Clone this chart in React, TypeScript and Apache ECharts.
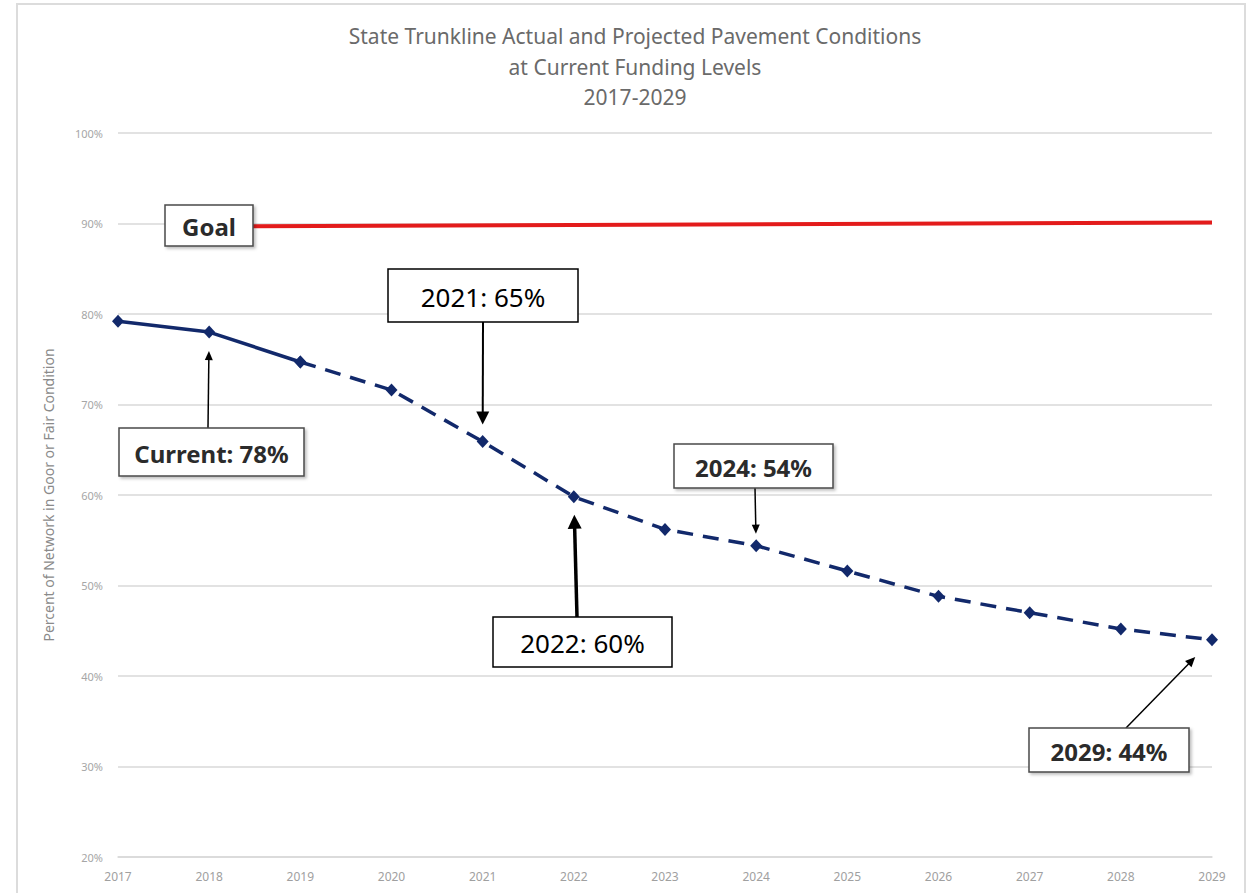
import React, { useEffect, useRef } from "react";
import * as echarts from "echarts";

const titleLines = [
  "State Trunkline Actual and Projected Pavement Conditions",
  "at Current Funding Levels",
  "2017-2029",
];
const yAxisName = "Percent of Network in Goor or Fair Condition";
const actualYears = [2017, 2018, 2019];
const actualValues = [79.2, 78.0, 74.7];
const projectedYears = [2019, 2020, 2021, 2022, 2023, 2024, 2025, 2026, 2027, 2028, 2029];
const projectedValues = [74.7, 71.6, 65.9, 59.8, 56.2, 54.4, 51.6, 48.8, 47.0, 45.2, 44.0];
const goalYears = [2018.48, 2029];
const goalValues = [89.7, 90.1];

type Ann = {
  text: string;
  box: [number, number, number, number];
  strong: boolean;
  fontSize: number;
  arrow?: { year: number; value: number; from: [number, number]; gap: number; lw: number; hl: number; hw: number };
};

const annotations: Ann[] = [
  { text: "Goal", box: [165, 205, 88, 41], strong: true, fontSize: 24 },
  {
    text: "Current: 78%", box: [119, 428, 185, 48], strong: true, fontSize: 24,
    arrow: { year: 2018, value: 78.0, from: [208, 428], gap: 19, lw: 1.5, hl: 9, hw: 8 },
  },
  {
    text: "2021: 65%", box: [388, 269, 190, 53], strong: false, fontSize: 26,
    arrow: { year: 2021, value: 65.9, from: [483, 322], gap: 17, lw: 2, hl: 13, hw: 13 },
  },
  {
    text: "2022: 60%", box: [493, 617, 179, 50], strong: false, fontSize: 26,
    arrow: { year: 2022, value: 59.8, from: [577, 617], gap: 18, lw: 3.5, hl: 14, hw: 14 },
  },
  {
    text: "2024: 54%", box: [674, 444, 159, 44], strong: true, fontSize: 24,
    arrow: { year: 2024, value: 54.4, from: [755, 488], gap: 12, lw: 1.5, hl: 9, hw: 8 },
  },
  {
    text: "2029: 44%", box: [1029, 728, 160, 44], strong: true, fontSize: 24,
    arrow: { year: 2029, value: 44.0, from: [1126, 728], gap: 24, lw: 1.5, hl: 10, hw: 9 },
  },
];

const FONT = "'Noto Sans', 'Open Sans', sans-serif";
const NAVY = "#12296b";

export default function App() {
  const ref = useRef<HTMLDivElement>(null);
  useEffect(() => {
    if (!ref.current) return;
    const chart = echarts.init(ref.current, null, { renderer: "svg" });
    chart.setOption({
      animation: false,
      backgroundColor: "#ffffff",
      title: {
        text: titleLines.join("\n"),
        left: 630,
        top: 16,
        textAlign: "center",
        textStyle: { fontFamily: FONT, fontSize: 21, fontWeight: "normal", color: "#6a6a6a", lineHeight: 30.5 },
      },
      grid: { left: 118, right: 38, top: 133, bottom: 36 },
      xAxis: {
        type: "value",
        min: 2017,
        max: 2029,
        interval: 1,
        axisLine: { show: true, lineStyle: { color: "#d9d9d9", width: 1.5 } },
        axisTick: { show: false },
        splitLine: { show: false },
        axisLabel: { color: "#a0a0a0", fontSize: 12, fontFamily: FONT, margin: 13, formatter: (v: number) => String(v) },
      },
      yAxis: {
        type: "value",
        min: 20,
        max: 100,
        interval: 10,
        name: yAxisName,
        nameLocation: "middle",
        nameRotate: 90,
        nameGap: 63,
        nameTextStyle: { color: "#8a8a8a", fontSize: 14, fontFamily: FONT },
        axisLine: { show: false },
        axisTick: { show: false },
        splitLine: { lineStyle: { color: "#d9d9d9", width: 1.5 } },
        axisLabel: { color: "#a6a6a6", fontSize: 11, fontFamily: FONT, margin: 15, formatter: "{value}%" },
      },
      series: [
        {
          type: "line",
          data: goalYears.map((y, i) => [y, goalValues[i]]),
          symbol: "none",
          lineStyle: { color: "#e31b1b", width: 4 },
          z: 3,
        },
        {
          type: "line",
          data: actualYears.map((y, i) => [y, actualValues[i]]),
          symbol: "diamond",
          symbolSize: [12, 13],
          itemStyle: { color: NAVY },
          lineStyle: { color: NAVY, width: 3.5 },
          z: 4,
        },
        {
          type: "line",
          data: projectedYears.map((y, i) => [y, projectedValues[i]]),
          symbol: "diamond",
          symbolSize: [12, 13],
          itemStyle: { color: NAVY },
          lineStyle: { color: NAVY, width: 3.5, type: [16, 10] },
          z: 4,
        },
      ],
    });

    const elements: any[] = [
      {
        type: "rect",
        shape: { x: 17, y: 4, width: 1228, height: 910 },
        style: { fill: "none", stroke: "#dcdcdc", lineWidth: 2 },
        silent: true,
        z: 0,
      },
    ];
    annotations.forEach((a) => {
      const [bx, by, bw, bh] = a.box;
      const stroke = a.strong ? "#4a4a4a" : "#000000";
      elements.push({
        type: "rect",
        shape: { x: bx, y: by, width: bw, height: bh },
        style: {
          fill: "#ffffff",
          stroke,
          lineWidth: 1.5,
          shadowBlur: a.strong ? 3 : 0,
          shadowOffsetX: a.strong ? 2 : 0,
          shadowOffsetY: a.strong ? 2 : 0,
          shadowColor: "rgba(0,0,0,0.25)",
        },
        z: 10,
      });
      elements.push({
        type: "text",
        x: bx + bw / 2,
        y: by + bh / 2 + 1,
        style: {
          text: a.text,
          fill: a.strong ? "#2b2b2b" : "#000000",
          font: `${a.strong ? "bold " : ""}${a.fontSize}px ${FONT}`,
          align: "center",
          verticalAlign: "middle",
        },
        z: 11,
      });
      if (a.arrow) {
        const ar = a.arrow;
        const p = chart.convertToPixel({ gridIndex: 0 }, [ar.year, ar.value]) as number[];
        const [sx, sy] = ar.from;
        const dx = p[0] - sx;
        const dy = p[1] - sy;
        const len = Math.sqrt(dx * dx + dy * dy);
        const ux = dx / len;
        const uy = dy / len;
        const tx = p[0] - ux * ar.gap;
        const ty = p[1] - uy * ar.gap;
        const bxp = tx - ux * ar.hl;
        const byp = ty - uy * ar.hl;
        const nx = -uy;
        const ny = ux;
        elements.push({
          type: "line",
          shape: { x1: sx, y1: sy, x2: bxp + ux * 1, y2: byp + uy * 1 },
          style: { stroke: "#000000", lineWidth: ar.lw },
          z: 9,
        });
        elements.push({
          type: "polygon",
          shape: {
            points: [
              [tx, ty],
              [bxp + nx * ar.hw / 2, byp + ny * ar.hw / 2],
              [bxp - nx * ar.hw / 2, byp - ny * ar.hw / 2],
            ],
          },
          style: { fill: "#000000" },
          z: 9,
        });
      }
    });
    chart.setOption({ graphic: { elements } });

    return () => chart.dispose();
  }, []);
  return (
    <div
      ref={ref}
      style={{ position: "absolute", left: 0, top: 0, width: 1250, height: 893 }}
    />
  );
}
